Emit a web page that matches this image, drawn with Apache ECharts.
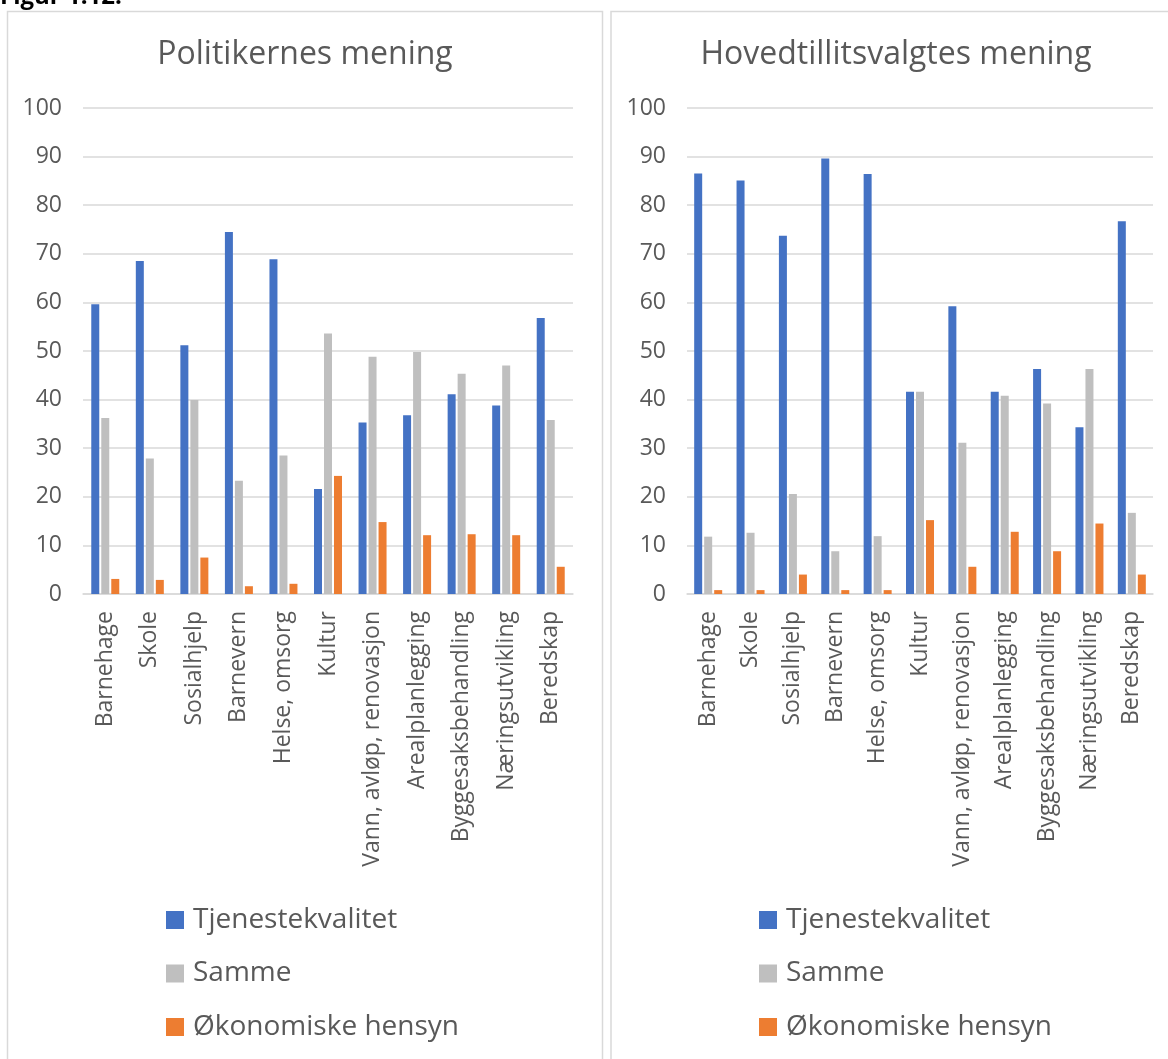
<!DOCTYPE html>
<html>
<head>
<meta charset="utf-8">
<script src="https://cdn.jsdelivr.net/npm/echarts@6/dist/echarts.min.js"></script>
<style>
html,body{margin:0;padding:0;background:#fff;}
#chart{width:1168px;height:1059px;}
</style>
</head>
<body>
<div id="chart"></div>
<script>
const categories = ["Barnehage","Skole","Sosialhjelp","Barnevern","Helse, omsorg","Kultur","Vann, avløp, renovasjon","Arealplanlegging","Byggesaksbehandling","Næringsutvikling","Beredskap"];
const seriesNames = ["Tjenestekvalitet","Samme","Økonomiske hensyn"];
const chartTitles = ["Politikernes mening","Hovedtillitsvalgtes mening"];
const figureCaption = "Figur 1.12.";

// Politikernes mening
const polTjeneste = [59.6,68.5,51.2,74.5,68.9,21.6,35.3,36.8,41.1,38.8,56.8];
const polSamme    = [36.2,27.9,39.9,23.3,28.5,53.6,48.8,49.8,45.3,47.0,35.8];
const polOkonomi  = [3.1,2.9,7.5,1.6,2.1,24.3,14.8,12.1,12.3,12.1,5.6];

// Hovedtillitsvalgtes mening
const htvTjeneste = [86.5,85.1,73.7,89.6,86.4,41.6,59.2,41.6,46.3,34.3,76.7];
const htvSamme    = [11.8,12.6,20.6,8.8,11.9,41.6,31.1,40.8,39.2,46.3,16.7];
const htvOkonomi  = [0.8,0.8,4.0,0.8,0.8,15.2,5.6,12.8,8.8,14.5,4.0];

const colors = ["#4472C4","#BFBFBF","#ED7D31"];
const textColor = "#595959";
const gridColor = "#D9D9D9";
const FONT = "'Open Sans', sans-serif";

const grids = [
  {left:83, top:108, width:490, height:486},
  {left:687, top:108, width:466, height:486}
];

function xAxis(i){
  return {
    type:'category', gridIndex:i, data:categories,
    axisTick:{show:false},
    axisLine:{lineStyle:{color:gridColor,width:1.5}},
    axisLabel:{rotate:90, interval:0, margin:17, color:textColor, fontSize:23, fontFamily:FONT}
  };
}
function yAxis(i){
  return {
    type:'value', gridIndex:i, min:0, max:100, interval:10,
    axisLine:{show:false}, axisTick:{show:false},
    splitLine:{lineStyle:{color:gridColor,width:1.5}},
    axisLabel:{margin:21, color:textColor, fontSize:23, fontFamily:FONT}
  };
}
function bars(i, data){
  return data.map((d,k)=>({
    name:seriesNames[k], type:'bar', xAxisIndex:i, yAxisIndex:i,
    data:d, barWidth:8, barGap:'25%',
    itemStyle:{color:colors[k]}, emphasis:{disabled:true}, animation:false
  }));
}
function legend(left){
  return {
    orient:'vertical', left:left, top:906, padding:0, itemWidth:18, itemHeight:18, itemGap:25.5,
    icon:'rect', selectedMode:false, data:seriesNames,
    textStyle:{color:textColor, fontSize:28, fontFamily:FONT, padding:[0,0,0,4]}
  };
}

const option = {
  backgroundColor:'#fff',
  animation:false,
  color:colors,
  title:[
    {text:chartTitles[0], left:305, top:39, textAlign:'center', padding:0,
     textStyle:{color:textColor, fontSize:32, fontWeight:400, fontFamily:FONT}},
    {text:chartTitles[1], left:896, top:39, textAlign:'center', padding:0,
     textStyle:{color:textColor, fontSize:32, fontWeight:400, fontFamily:FONT}}
  ],
  grid:grids,
  xAxis:[xAxis(0), xAxis(1)],
  yAxis:[yAxis(0), yAxis(1)],
  legend:[legend(166), legend(759)],
  series:[].concat(bars(0,[polTjeneste,polSamme,polOkonomi]), bars(1,[htvTjeneste,htvSamme,htvOkonomi])),
  graphic:[
    {type:'rect', shape:{x:7.5, y:11.5, width:595, height:1100}, style:{fill:'none', stroke:gridColor, lineWidth:1.5}, silent:true, z:-1},
    {type:'rect', shape:{x:611, y:11.5, width:600, height:1100}, style:{fill:'none', stroke:gridColor, lineWidth:1.5}, silent:true, z:-1},
    {type:'text', left:0, top:-15, style:{text:figureCaption, fill:'#000', font:"bold 24px 'Open Sans', sans-serif"}, silent:true}
  ]
};

const chart = echarts.init(document.getElementById('chart'), null, {renderer:'canvas'});
chart.setOption(option);
</script>
</body>
</html>
